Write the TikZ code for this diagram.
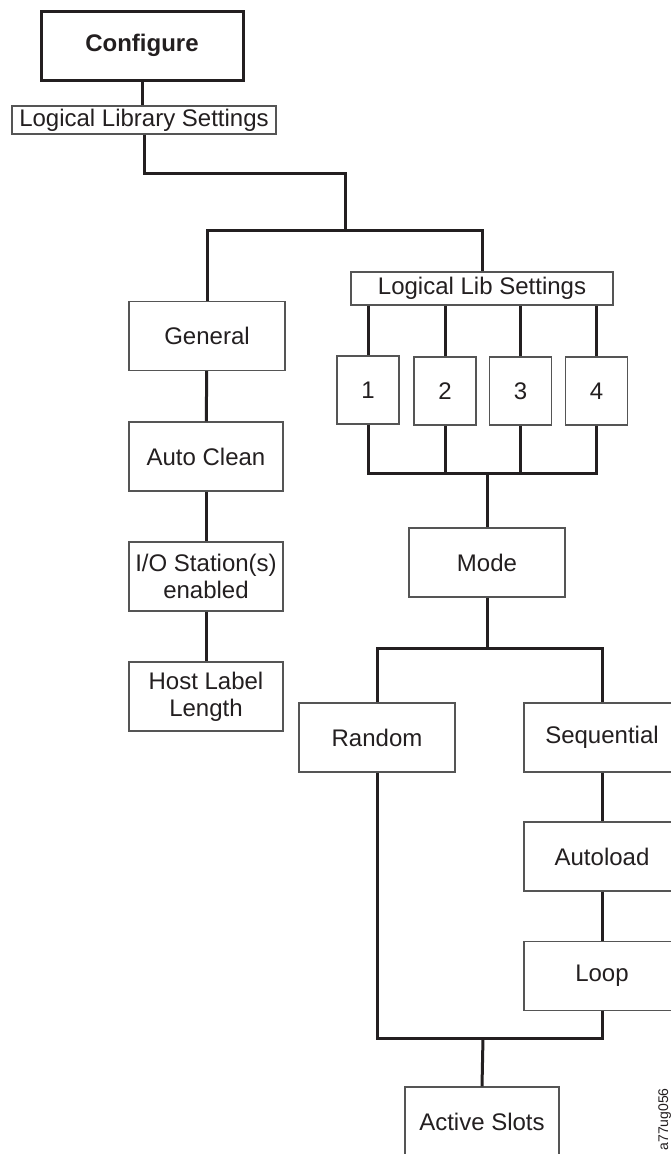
\documentclass[tikz,border=0pt]{standalone}
\usepackage{fontspec}
\setmainfont{Liberation Sans}
\definecolor{lineblk}{HTML}{231F20}
\definecolor{boxgray}{HTML}{555555}
\begin{document}
\begin{tikzpicture}[x=1pt,y=-1pt,
  box/.style={draw=boxgray, line width=1.2pt, fill=white, minimum width=156pt, minimum height=69pt,
    inner sep=0pt, align=center, font=\fontsize{24}{27}\selectfont, text=lineblk},
  numbox/.style={box, minimum width=62pt, minimum height=68pt},
  conn/.style={draw=lineblk, line width=3pt}]
\useasboundingbox (0,0) rectangle (671,1154);
% nodes
\node[box, draw=lineblk, line width=3pt, minimum width=202pt, minimum height=69pt,
  font=\bfseries\fontsize{24}{27}\selectfont] (configure) at (142,45.5) {Configure};
\node[box, minimum width=264pt, minimum height=28pt] (lls) at (144,120) {Logical Library Settings};
\node[box] (general) at (207,336) {General};
\node[box, minimum width=154pt] (autoclean) at (206,456.5) {Auto Clean};
\node[box, minimum width=154pt] (io) at (206,576.5) {I/O Station(s)\\enabled};
\node[box, minimum width=154pt] (host) at (206,696.5) {Host Label\\Length};
\node[box, minimum width=262pt, minimum height=33pt] (lls2) at (482,288.5) {Logical Lib Settings};
\node[numbox] (b1) at (368,390) {1};
\node[numbox] (b2) at (445,391) {2};
\node[numbox] (b3) at (520.5,391) {3};
\node[numbox] (b4) at (596.5,391) {4};
\node[box] (mode) at (487,562.5) {Mode};
\node[box] (random) at (377,737.5) {Random};
\node[box] (seq) at (602,737.5) {Sequential};
\node[box] (autoload) at (602,856.5) {Autoload};
\node[box] (loop) at (602,976) {Loop};
\node[box, minimum width=154pt] (active) at (482,1121.5) {Active Slots};
\node[rotate=90, anchor=base east, inner sep=0pt, font=\fontsize{14}{14}\selectfont, text=lineblk] (tag) at (668,1088) {a77ug056};
% junctions
\coordinate (k1) at (345,173);
\coordinate (j1) at (345,230);
\coordinate (j2) at (487,473);
\coordinate (j3) at (487,648);
\coordinate (j4) at (483,1038);
% connectors
\draw[conn] (configure.south) -- (configure.south |- lls.north);
\draw[conn] (lls.south) |- (k1) -- (j1);
\draw[conn] (general.north) |- (j1) -| (lls2.north);
\draw[conn] (general) -- (autoclean);
\draw[conn] (autoclean) -- (io);
\draw[conn] (io) -- (host);
\foreach \b in {b1,b2,b3,b4}{
  \draw[conn] (\b.north |- lls2.south) -- (\b.north);
}
\draw[conn] (b1.south) |- (b4.south |- j2) -- (b4.south);
\draw[conn] (b2.south) -- (b2.south |- j2);
\draw[conn] (b3.south) -- (b3.south |- j2);
\draw[conn] (j2) -- (mode.north);
\draw[conn] (mode.south) -- (j3);
\draw[conn] (random.north) |- (j3) -| (seq.north);
\draw[conn] (seq) -- (autoload);
\draw[conn] (autoload) -- (loop);
\draw[conn] (random.south) |- (j4) -| (loop.south);
\draw[conn] (j4) -- (active.north);
\end{tikzpicture}
\end{document}
